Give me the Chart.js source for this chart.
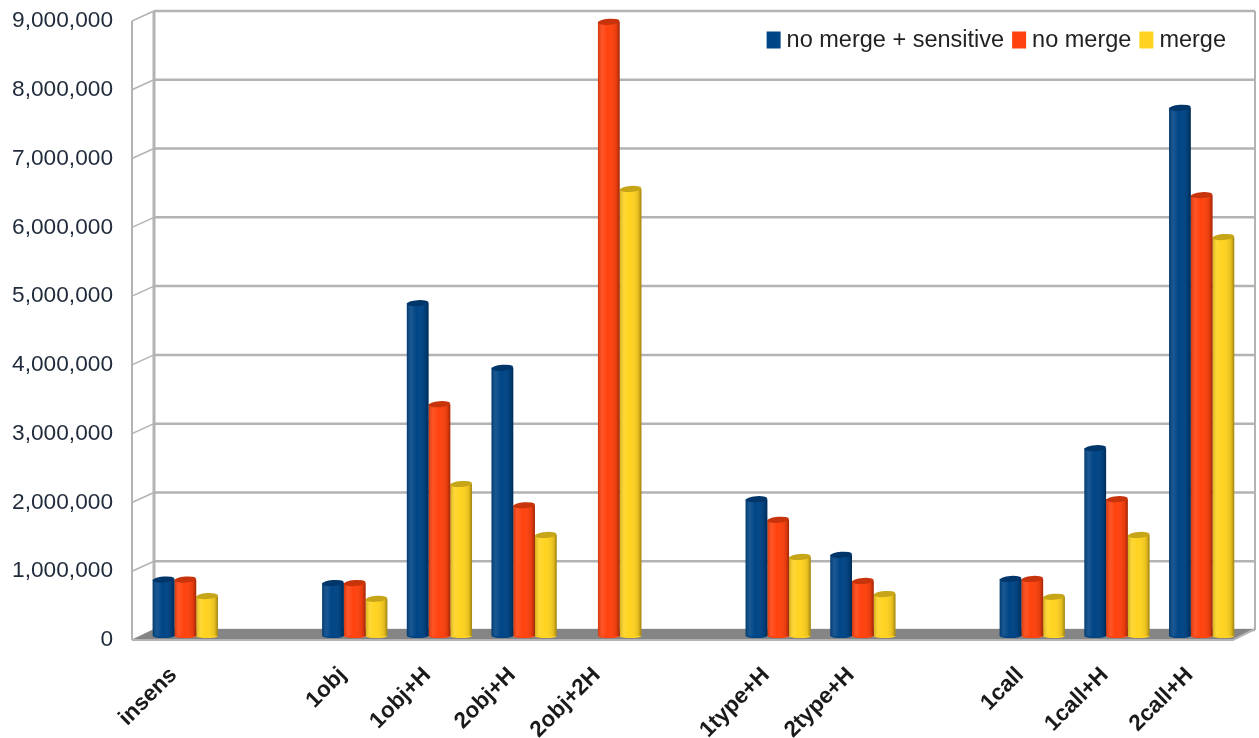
<!DOCTYPE html>
<html>
<head>
<meta charset="utf-8">
<script src="https://cdn.jsdelivr.net/npm/chart.js@4.4.1/dist/chart.umd.min.js"></script>
<style>
  html, body { margin: 0; padding: 0; background: #ffffff; }
  #wrap { width: 1259px; height: 738px; position: relative; }
</style>
</head>
<body>
<div id="wrap"><canvas id="c" width="1259" height="738"></canvas></div>
<script>
// Categories (empty strings leave gaps between configuration families)
const categories = ['insens', '', '1obj', '1obj+H', '2obj+H', '2obj+2H', '', '1type+H', '2type+H', '', '1call', '1call+H', '2call+H'];

// Series values
const seriesNames = ['no merge + sensitive', 'no merge', 'merge'];
const noMergeSensitive = [820000, null, 770000, 4840000, 3900000, null, null, 1990000, 1180000, null, 830000, 2730000, 7680000];
const noMerge          = [820000, null, 770000, 3370000, 1900000, 8930000, null, 1690000, 800000, null, 830000, 1990000, 6410000];
const merge            = [580000, null, 540000, 2210000, 1470000, 6500000, null, 1150000, 610000, null, 570000, 1470000, 5800000];

// Value axis ticks
const yMin = 0;
const yMax = 9000000;
const yStep = 1000000;

const seriesColors = ['#004586', '#ff420e', '#ffd320'];
const FONT = "'Liberation Sans', Arial, sans-serif";

// Offsets of the back wall and the front edge relative to the bar plane
const BACK = { dx: 11, dy: -6 };
const FRONT = { dx: -11, dy: 4 };

function shade(hex, f) {
  const n = parseInt(hex.slice(1), 16);
  let r = (n >> 16) & 255, g = (n >> 8) & 255, b = n & 255;
  const adj = c => Math.max(0, Math.min(255, Math.round(f < 0 ? c * (1 + f) : c + (255 - c) * f)));
  return `rgb(${adj(r)},${adj(g)},${adj(b)})`;
}

// Back wall, left wall and floor of the 3D frame
const framePlugin = {
  id: 'frame3d',
  beforeDatasetsDraw(chart) {
    const ctx = chart.ctx;
    const { left, right } = chart.chartArea;
    const ys = chart.scales.y;
    const y0 = ys.getPixelForValue(0);
    const yTop = ys.getPixelForValue(yMax);
    ctx.save();
    ctx.strokeStyle = '#b3b3b3';
    ys.ticks.forEach(t => {
      const y = ys.getPixelForValue(t.value);
      ctx.lineWidth = 2.5;
      ctx.beginPath();
      ctx.moveTo(left + BACK.dx, y + BACK.dy);
      ctx.lineTo(right + BACK.dx, y + BACK.dy);
      ctx.stroke();
      ctx.lineWidth = 1.5;
      ctx.beginPath();
      ctx.moveTo(left + FRONT.dx, y + FRONT.dy);
      ctx.lineTo(left + BACK.dx, y + BACK.dy);
      ctx.stroke();
    });
    // vertical edges
    ctx.lineWidth = 3;
    ctx.beginPath();
    ctx.moveTo(left + BACK.dx, yTop + BACK.dy);
    ctx.lineTo(left + BACK.dx, y0 + BACK.dy);
    ctx.stroke();
    ctx.lineWidth = 2;
    ctx.beginPath();
    ctx.moveTo(right + BACK.dx, yTop + BACK.dy);
    ctx.lineTo(right + BACK.dx, y0 + BACK.dy);
    ctx.stroke();
    ctx.beginPath();
    ctx.moveTo(left + FRONT.dx, yTop + FRONT.dy);
    ctx.lineTo(left + FRONT.dx, y0 + FRONT.dy);
    ctx.stroke();
    // floor
    ctx.fillStyle = '#858585';
    ctx.beginPath();
    ctx.moveTo(left + BACK.dx, y0 + BACK.dy - 1);
    ctx.lineTo(right + BACK.dx, y0 + BACK.dy - 1);
    ctx.lineTo(right + FRONT.dx, y0 + FRONT.dy);
    ctx.lineTo(left + FRONT.dx, y0 + FRONT.dy);
    ctx.closePath();
    ctx.fill();
    ctx.strokeStyle = '#b3b3b3';
    ctx.lineWidth = 2;
    ctx.beginPath();
    ctx.moveTo(left + FRONT.dx, y0 + FRONT.dy);
    ctx.lineTo(right + FRONT.dx, y0 + FRONT.dy);
    ctx.lineTo(right + BACK.dx, y0 + BACK.dy - 1);
    ctx.stroke();
    ctx.restore();
  }
};

// Cylinder shading and top caps over each bar
const cylinderPlugin = {
  id: 'cylinder',
  afterDatasetsDraw(chart) {
    const ctx = chart.ctx;
    ctx.save();
    chart.data.datasets.forEach((ds, i) => {
      const meta = chart.getDatasetMeta(i);
      const col = seriesColors[i];
      meta.data.forEach((bar, j) => {
        if (ds.data[j] == null) return;
        const { x, y, width, base } = bar.getProps(['x', 'y', 'width', 'base'], true);
        const l = x - width / 2;
        const g = ctx.createLinearGradient(l, 0, l + width, 0);
        g.addColorStop(0, 'rgba(0,0,0,0.18)');
        g.addColorStop(0.2, 'rgba(255,255,255,0.10)');
        g.addColorStop(0.45, 'rgba(255,255,255,0.0)');
        g.addColorStop(0.85, 'rgba(0,0,0,0.10)');
        g.addColorStop(1, 'rgba(0,0,0,0.38)');
        ctx.fillStyle = g;
        ctx.fillRect(l, y, width, base - y);
        // rounded bottom
        ctx.fillStyle = col;
        ctx.beginPath();
        ctx.ellipse(x, base, width / 2, 2, 0, 0, Math.PI);
        ctx.fill();
        // top cap
        ctx.fillStyle = shade(col, -0.22);
        ctx.beginPath();
        ctx.ellipse(x, y, width / 2, 3, -0.08, 0, Math.PI * 2);
        ctx.fill();
      });
    });
    ctx.restore();
  }
};

// Single-row legend in the upper right corner of the back wall
const legendPlugin = {
  id: 'cornerLegend',
  afterDraw(chart) {
    const ctx = chart.ctx;
    const rightEdge = chart.chartArea.right - 18;
    const cy = chart.chartArea.top + 23;
    const boxW = 14, boxH = 17, boxGap = 6, itemGap = 8;
    ctx.save();
    ctx.font = `23.5px ${FONT}`;
    ctx.textBaseline = 'middle';
    const widths = seriesNames.map(n => ctx.measureText(n).width);
    let total = 0;
    widths.forEach((w, i) => { total += boxW + boxGap + w + (i < widths.length - 1 ? itemGap : 0); });
    let x = rightEdge - total;
    seriesNames.forEach((n, i) => {
      ctx.fillStyle = seriesColors[i];
      ctx.fillRect(x, cy - boxH / 2, boxW, boxH);
      ctx.fillStyle = '#222222';
      ctx.fillText(n, x + boxW + boxGap, cy + 1);
      x += boxW + boxGap + widths[i] + itemGap;
    });
    ctx.restore();
  }
};

const datasets = [noMergeSensitive, noMerge, merge].map((vals, i) => ({
  label: seriesNames[i],
  data: vals,
  backgroundColor: seriesColors[i],
  borderWidth: 0,
  barPercentage: 1.0,
  categoryPercentage: 0.77
}));

new Chart(document.getElementById('c'), {
  type: 'bar',
  data: { labels: categories, datasets },
  plugins: [framePlugin, cylinderPlugin, legendPlugin],
  options: {
    responsive: false,
    animation: false,
    layout: { padding: { top: 0, right: 15, left: 0, bottom: 0 } },
    plugins: {
      tooltip: { enabled: false },
      legend: { display: false }
    },
    scales: {
      x: {
        grid: { display: false, drawTicks: false },
        border: { display: false },
        afterFit: s => { s.height = 102; },
        ticks: {
          autoSkip: false,
          minRotation: 45,
          maxRotation: 45,
          padding: 26,
          labelOffset: -12,
          color: '#1a1a1a',
          font: { family: FONT, size: 22.5, weight: 'bold' }
        }
      },
      y: {
        min: yMin,
        max: yMax,
        grid: { display: false, drawTicks: false },
        border: { display: false },
        afterFit: s => { s.width = 143; s.paddingTop = 17; s.paddingBottom = 0; },
        ticks: {
          stepSize: yStep,
          padding: 30,
          labelOffset: 4,
          color: '#1f2a3a',
          font: { family: FONT, size: 22.7 },
          callback: v => Number(v).toLocaleString('en-US')
        }
      }
    }
  }
});
</script>
</body>
</html>
